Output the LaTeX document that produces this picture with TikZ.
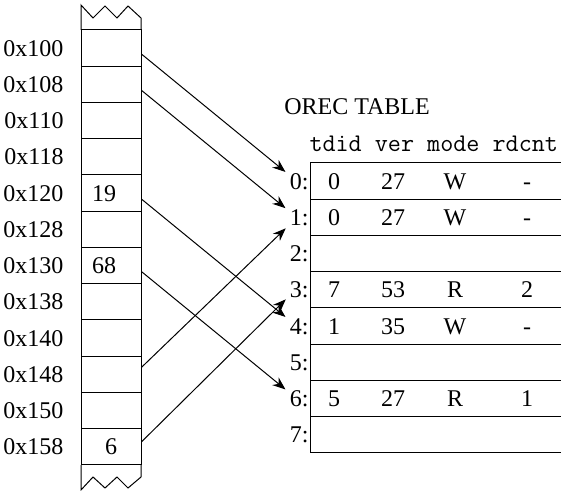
\documentclass[tikz,border=0pt]{standalone}
\usepackage{fontspec}
\setmainfont{Liberation Serif}
\usetikzlibrary{arrows.meta,positioning}

\tikzset{
  memcell/.style={draw, minimum width=30pt, minimum height=18.125pt, inner sep=0pt},
  orecrow/.style={draw, anchor=west, minimum width=140pt, minimum height=18.125pt, inner sep=0pt},
  txt/.style={inner sep=0pt, text height=8.1pt, text depth=0pt},
  ptr/.style={-{Stealth[length=6.5pt,width=5pt]}, shorten >=2.5pt},
}

\begin{document}
\begin{tikzpicture}[x=0.5pt, y=-0.5pt, line width=0.5pt, font=\fontsize{12}{14}\selectfont]
    \useasboundingbox (0,0) rectangle (561,491);

    % memory column
    \foreach \a [count=\i from 0] in {100,108,110,118,120,128,130,138,140,148,150,158} {
        \node[memcell] (m\i) at (111, 48.1+36.25*\i) {};
        \node[txt, anchor=east] (a\i) at (64, 48.1+36.25*\i) {0x\a};
    }
    \draw (81,30) -- (81,5) -- (93,18) -- (105,6) -- (117,18) -- (128,6) -- (141,18) -- (141,30);
    \draw (81,465) -- (81,490) -- (93,477) -- (105,488) -- (117,477) -- (128,488) -- (141,477) -- (141,465);
    \node[txt] (v19) at ([xshift=-3.5pt]m4) {19};
    \node[txt] (v68) at ([xshift=-3.5pt]m6) {68};
    \node[txt] (v6) at (m11) {6};

    % orec table
    \node[txt, anchor=base] (title) at (357,115) {OREC TABLE};
    \node[anchor=base west, inner sep=0pt, font=\fontsize{12.7}{14}\selectfont\ttfamily] (hdr) at (309,151.5) {tdid ver mode rdcnt};
    \foreach \i in {0,...,7} {
        \node[orecrow] (row\i) at (310, 181.1+36.25*\i) {};
        \node[txt, anchor=east] (r\i) at ([xshift=-0.5pt]row\i.west) {\i:};
    }
    \foreach \i/\t/\v/\m/\c in {0/0/27/W/-, 1/0/27/W/-, 3/7/53/R/2, 4/1/35/W/-, 6/5/27/R/1} {
        \node[txt] (td\i) at (334, 181.1+36.25*\i) {\t};
        \node[txt] (ve\i) at (393, 181.1+36.25*\i) {\v};
        \node[txt] (mo\i) at (455, 181.1+36.25*\i) {\m};
        \node[txt] (rc\i) at (527, 181.1+36.25*\i) {\c};
    }

    % pointers
    \draw[ptr] ([yshift=-3pt]m0.east) -- ([yshift=3pt]r0.west);
    \draw[ptr] ([yshift=-3pt]m1.east) -- ([yshift=3pt]r1.west);
    \draw[ptr] ([yshift=-3pt]m4.east) -- ([yshift=3pt]r4.west);
    \draw[ptr] ([yshift=-3pt]m6.east) -- ([yshift=3pt]r6.west);
    \draw[ptr] ([yshift=3.5pt]m9.east) -- ([yshift=-3.75pt]r1.west);
    \draw[ptr] ([yshift=2.5pt]m11.east) -- ([yshift=-3pt]r3.west);
\end{tikzpicture}
\end{document}
